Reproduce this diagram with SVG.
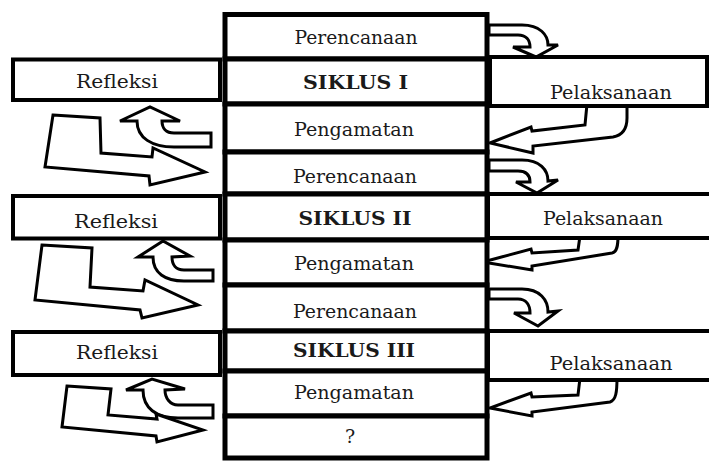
<svg xmlns="http://www.w3.org/2000/svg" width="709" height="461" viewBox="0 0 709 461">
<style>
.c{fill:#fff;stroke:#000;stroke-width:5}
.s{fill:#fff;stroke:#000;stroke-width:4}
.t{font-family:"DejaVu Serif","Liberation Serif",serif;font-size:19px;fill:#1a1a1a;text-anchor:middle}
.b{font-weight:bold}
.a{fill:#fff;stroke:#000;stroke-width:3;stroke-linejoin:miter}
</style>
<rect width="709" height="461" fill="#fff"/>
<g id="connectors">
<path class="a" d="M211 133 L174 133 C166 133 162 128 162 121 L180 121 L150 107 L120 121 L137 121 C137 138 152 147 174 147 L211 147 Z"/>
<path class="a" d="M53 115 L100 118 L101 153 L152 157 L153 148 L205 172 L150 185 L149 176 L45 167 Z"/>
<path class="a" d="M213 270 L184 270 C176 270 172 265 172 257 L190 256 L163 241 L138 257 L153 257 C153 273 165 281 184 281 L213 281 Z"/>
<path class="a" d="M42 245 L92 248 L90 287 L143 291 L145 280 L198 305 L142 318 L140 310 L35 300 Z"/>
<path class="a" d="M213 405 L178 405 C170 405 165 398 165 390 L185 389 L152 379 L126 390 L143 390 C143 408 156 418 178 418 L213 418 Z"/>
<path class="a" d="M67 386 L111 389 L108 415 L157 419 L156 414 L203 430 L157 442 L156 436 L62 427 Z"/>
<path class="a" d="M489 25 L522 25 C540 25 548 35 548 45 L558 45 L536 57 L513 47 L530 47 C530 40 526 35 518 35 L489 35 Z"/>
<path class="a" d="M489 160 L522 160 C540 160 548 170 548 181 L558 180 L537 193 L516 182 L530 182 C530 175 526 171 518 171 L489 171 Z"/>
<path class="a" d="M489 289 L522 289 C540 289 548 300 548 312 L558 311 L538 326 L514 313 L530 313 C530 305 526 299 518 299 L489 299 Z"/>
<path class="a" d="M587 104 L585 125 L532 131 L531 127 L490 143 L533 153 L533 146 L613 137 C624 135 627 127 627 118 L627 104 Z"/>
<path class="a" d="M580 236 L578 250 L532 253 L531 249 L483 262 L532 270 L532 266 L612 253 C617 252 618 246 618 236 Z"/>
<path class="a" d="M580 378 L578 395 L532 397 L531 393 L490 408 L532 416 L532 412 L610 402 C616 400 617 392 617 378 Z"/>
</g>
<g id="perencanaan1"><rect class="c" x="225" y="14.5" width="262" height="44.5"/><text class="t" x="356" y="44" textLength="123" lengthAdjust="spacingAndGlyphs">Perencanaan</text></g>
<g id="siklus1"><rect class="c" x="225" y="59" width="262" height="45"/><text class="t b" x="355.5" y="89" textLength="105" lengthAdjust="spacingAndGlyphs">SIKLUS I</text></g>
<g id="pengamatan1"><rect class="c" x="225" y="104" width="262" height="48"/><text class="t" x="354" y="136" textLength="120" lengthAdjust="spacingAndGlyphs">Pengamatan</text></g>
<g id="perencanaan2"><rect class="c" x="225" y="152" width="262" height="42"/><text class="t" x="355" y="183" textLength="124" lengthAdjust="spacingAndGlyphs">Perencanaan</text></g>
<g id="siklus2"><rect class="c" x="225" y="194" width="262" height="46"/><text class="t b" x="355" y="225" textLength="113" lengthAdjust="spacingAndGlyphs">SIKLUS II</text></g>
<g id="pengamatan2"><rect class="c" x="225" y="240" width="262" height="45"/><text class="t" x="354" y="270" textLength="120" lengthAdjust="spacingAndGlyphs">Pengamatan</text></g>
<g id="perencanaan3"><rect class="c" x="225" y="285" width="262" height="46"/><text class="t" x="355" y="318" textLength="124" lengthAdjust="spacingAndGlyphs">Perencanaan</text></g>
<g id="siklus3"><rect class="c" x="225" y="331" width="262" height="40"/><text class="t b" x="354" y="357" textLength="122" lengthAdjust="spacingAndGlyphs">SIKLUS III</text></g>
<g id="pengamatan3"><rect class="c" x="225" y="371" width="262" height="45"/><text class="t" x="354" y="399" textLength="120" lengthAdjust="spacingAndGlyphs">Pengamatan</text></g>
<g id="unknown"><rect class="c" x="225" y="416" width="262" height="42"/><text class="t" x="350" y="443">?</text></g>
<g id="refleksi1"><rect class="s" x="13" y="59.5" width="207" height="40.5"/><text class="t" x="117" y="88" textLength="82" lengthAdjust="spacingAndGlyphs">Refleksi</text></g>
<g id="refleksi2"><rect class="s" x="13" y="196" width="207" height="42.5"/><text class="t" x="116" y="228" textLength="84" lengthAdjust="spacingAndGlyphs">Refleksi</text></g>
<g id="refleksi3"><rect class="s" x="13" y="332" width="207" height="43"/><text class="t" x="117" y="359" textLength="82" lengthAdjust="spacingAndGlyphs">Refleksi</text></g>
<g id="pelaksanaan1"><rect class="s" x="490" y="57" width="217" height="49"/><text class="t" x="611" y="99" textLength="122" lengthAdjust="spacingAndGlyphs">Pelaksanaan</text></g>
<g id="pelaksanaan2"><rect class="s" x="488" y="194" width="227" height="44"/><text class="t" x="603" y="225" textLength="120" lengthAdjust="spacingAndGlyphs">Pelaksanaan</text></g>
<g id="pelaksanaan3"><rect class="s" x="488" y="331" width="227" height="49"/><text class="t" x="611" y="370" textLength="123" lengthAdjust="spacingAndGlyphs">Pelaksanaan</text></g>
</svg>
